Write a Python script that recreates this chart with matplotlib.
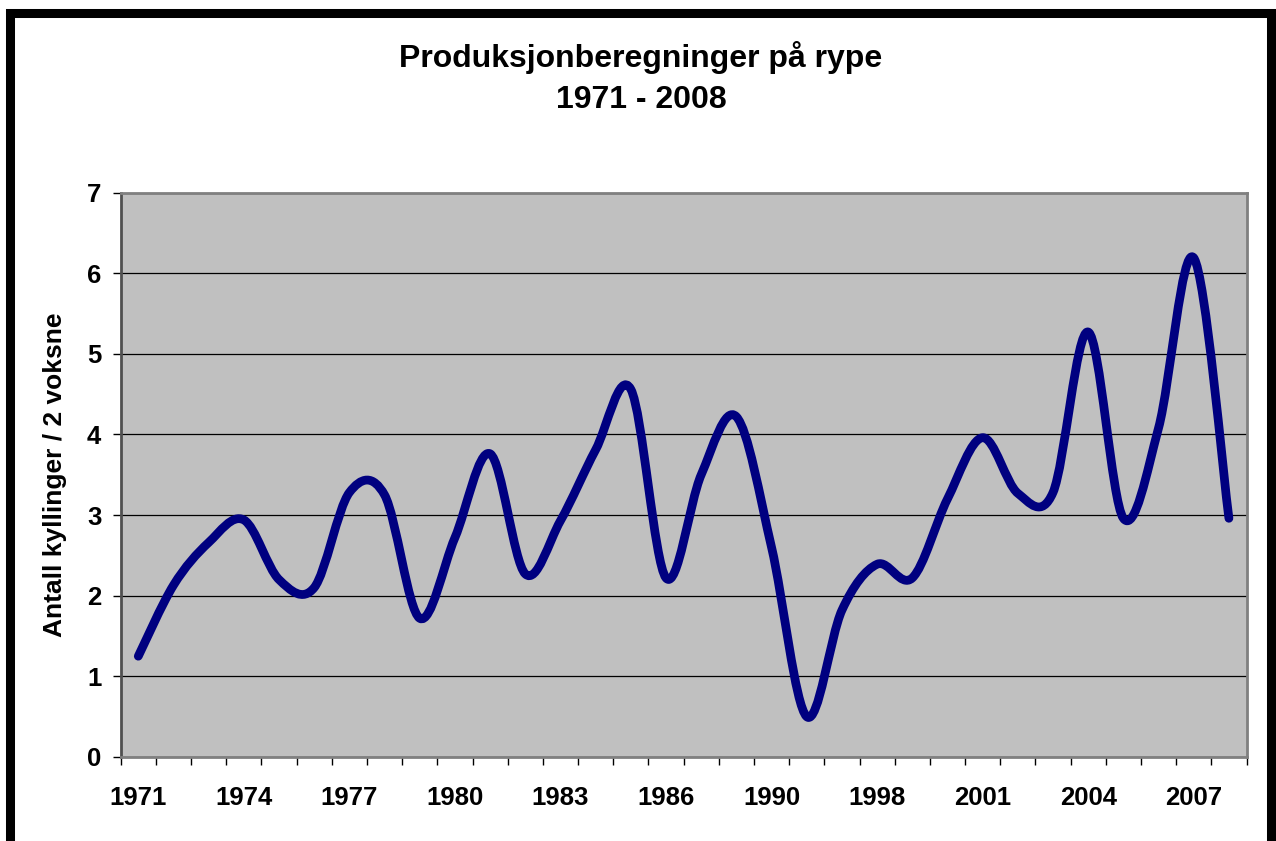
import matplotlib
matplotlib.use("Agg")
import matplotlib.pyplot as plt
from matplotlib.path import Path
from matplotlib.patches import PathPatch, Rectangle
import numpy as np

years = ["1971", "1972", "1973", "1974", "1975", "1976", "1977", "1978", "1979", "1980",
         "1981", "1982", "1983", "1984", "1985", "1986", "1987", "1988", "1990", "1991",
         "1997", "1998", "1999", "2000", "2001", "2002", "2003", "2004", "2005", "2006",
         "2007", "2008"]
values = [1.25, 2.13, 2.66, 2.94, 2.2, 2.1, 3.28, 3.25, 1.72, 2.72,
          3.76, 2.27, 2.93, 3.81, 4.56, 2.22, 3.5, 4.22, 2.6, 0.5,
          1.82, 2.39, 2.22, 3.2, 3.96, 3.27, 3.28, 5.27, 2.96, 4.08,
          6.19, 2.96]
labeled_years = ["1971", "1974", "1977", "1980", "1983", "1986", "1990", "1998", "2001", "2004", "2007"]
title_lines = ["Produksjonberegninger på rype", "1971 - 2008"]
ylabel = "Antall kyllinger / 2 voksne"

plt.rcParams['font.family'] = ['Liberation Sans', 'DejaVu Sans']

W, H = 1276, 841
fig = plt.figure(figsize=(W / 100, H / 100), dpi=100)
fig.patch.set_facecolor('white')

# outer frame
fig.patches.append(Rectangle((10 / W, -4 / H), 1261 / W, (H - 9) / H, transform=fig.transFigure,
                             fill=False, edgecolor='black', linewidth=6.5, zorder=10))

ax = fig.add_axes([120.7 / W, 1 - 757 / H, (1246.5 - 120.7) / W, (757 - 192.5) / H])
ax.set_facecolor('#C0C0C0')

n = len(years)
x = np.arange(n)
y = np.array(values, dtype=float)

# Smoothed line (Bezier, Excel-style)
verts = [(x[0], y[0])]
codes = [Path.MOVETO]
for i in range(n - 1):
    p0 = np.array([x[max(i - 1, 0)], y[max(i - 1, 0)]])
    p1 = np.array([x[i], y[i]])
    p2 = np.array([x[i + 1], y[i + 1]])
    p3 = np.array([x[min(i + 2, n - 1)], y[min(i + 2, n - 1)]])
    c1 = p1 + (p2 - p0) / 6.0
    c2 = p2 - (p3 - p1) / 6.0
    verts += [tuple(c1), tuple(c2), tuple(p2)]
    codes += [Path.CURVE4] * 3
path = Path(verts, codes)
ax.add_patch(PathPatch(path, facecolor='none', edgecolor='#000080', linewidth=6.3,
                       capstyle='round', joinstyle='round', zorder=3))

ax.set_xlim(-0.5, n - 0.5)
ax.set_ylim(0, 7)

# gridlines
ax.set_yticks(range(0, 8))
ax.yaxis.grid(True, color='black', linewidth=0.9)
ax.set_axisbelow(True)

# x ticks: boundaries (major, unlabeled), labels on minor
ax.set_xticks(np.arange(-0.5, n, 1.0))
ax.set_xticklabels([])
lab_pos = [years.index(yy) for yy in labeled_years]
ax.set_xticks(lab_pos, minor=True)
ax.set_xticklabels(labeled_years, minor=True)
ax.tick_params(axis='x', which='major', direction='out', length=6, width=1.0, color='black')
ax.tick_params(axis='x', which='minor', length=0, pad=21, labelsize=18.5)
for t in ax.get_xticklabels(minor=True):
    t.set_fontweight('bold')

ax.tick_params(axis='y', direction='out', length=6, width=1.0, color='black', labelsize=18.5, pad=8)
for t in ax.get_yticklabels():
    t.set_fontweight('bold')

for s in ['top', 'right', 'bottom']:
    ax.spines[s].set_color('#808080')
    ax.spines[s].set_linewidth(2.0)
ax.spines['left'].set_color('#505050')
ax.spines['left'].set_linewidth(2.0)

ax.set_ylabel(ylabel, fontsize=19, fontweight='bold', labelpad=14)

fig.text(641 / W, 1 - 57 / H, title_lines[0], ha='center', va='center', fontsize=23, fontweight='bold')
fig.text(641 / W, 1 - 100 / H, title_lines[1], ha='center', va='center', fontsize=23, fontweight='bold')

fig.savefig('out.png', dpi=100, facecolor='white')
